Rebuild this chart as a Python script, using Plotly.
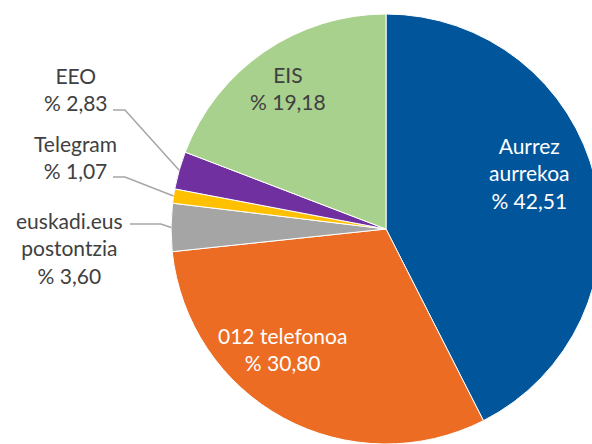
import math
import plotly.graph_objects as go

# ---- data ----
labels = ["Aurrez aurrekoa", "012 telefonoa", "euskadi.eus postontzia", "Telegram", "EEO", "EIS"]
values = [42.51, 30.80, 3.60, 1.07, 2.83, 19.18]
colors = ["#00559B", "#EB6C22", "#A5A5A5", "#FFC000", "#7030A0", "#A9D18E"]
label_text = ["Aurrez<br>aurrekoa", "012 telefonoa", "euskadi.eus<br>postontzia", "Telegram", "EEO", "EIS"]

# ---- geometry (pixels) ----
W, H = 602, 444
CX, CY, R = 386, 229, 215

def fmt(v):
    return "% " + f"{v:.2f}".replace(".", ",")

fig = go.Figure(go.Pie(
    labels=labels, values=values, sort=False, direction="clockwise", rotation=0,
    marker=dict(colors=colors, line=dict(color="white", width=1)),
    textinfo="none", hoverinfo="label+percent", showlegend=False,
    domain=dict(x=[(CX - R) / W, (CX + R) / W], y=[(H - CY - R) / H, (H - CY + R) / H]),
))

# label placement (pixels) and style per slice
label_pos = {
    0: (529, 173.5, "white"),
    1: (282.5, 348.5, "white"),
    2: (69.5, 247.5, "#404040"),
    3: (75, 156.5, "#404040"),
    4: (76, 89, "#404040"),
    5: (288, 87.5, "#404040"),
}
# leader line start/elbow (pixels) for outside labels
leaders = {
    2: ((130, 224), (161, 224)),
    3: ((113, 177), (125, 177)),
    4: ((113, 110), (125, 110)),
}

total = sum(values)
cum = 0.0
annotations, shapes = [], []
for i, v in enumerate(values):
    mid = (cum + v / 2) / total
    cum += v
    ang = 2 * math.pi * mid
    ex = CX + R * 1.0 * math.sin(ang)
    ey = CY - R * 1.0 * math.cos(ang)
    x, y, col = label_pos[i]
    annotations.append(dict(
        x=x / W, y=1 - y / H, xref="paper", yref="paper", xanchor="center", yanchor="middle",
        text=label_text[i] + "<br>" + fmt(v), showarrow=False, align="center",
        font=dict(family="Lato, 'Noto Sans', sans-serif", size=21, color=col),
    ))
    if i in leaders:
        (x0, y0), (x1, y1) = leaders[i]
        path = "M {:.4f},{:.4f} L {:.4f},{:.4f} L {:.4f},{:.4f}".format(
            x0 / W, 1 - y0 / H, x1 / W, 1 - y1 / H, ex / W, 1 - ey / H)
        shapes.append(dict(type="path", path=path, xref="paper", yref="paper",
                           line=dict(color="#A6A6A6", width=1.5), layer="above"))

fig.update_layout(
    width=W, height=H, margin=dict(l=0, r=0, t=0, b=0),
    paper_bgcolor="white", plot_bgcolor="white",
    annotations=annotations, shapes=shapes,
)

fig.write_html("out.html", config={"displayModeBar": False}, post_script=(
    "document.documentElement.style.overflow='hidden';"
    "document.body.style.overflow='hidden';document.body.style.margin='0';"))
